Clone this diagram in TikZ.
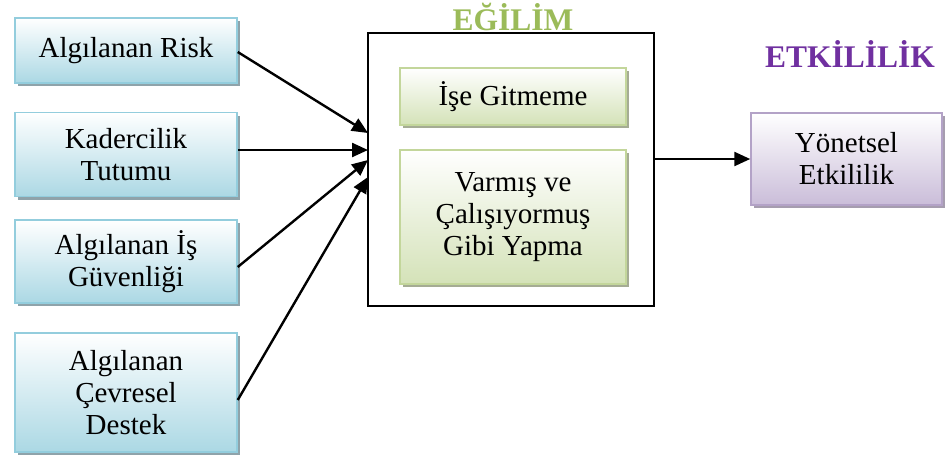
\documentclass[tikz,border=0pt]{standalone}
\usepackage{fontspec}
\setmainfont{Liberation Serif}
\usetikzlibrary{arrows.meta,shadows}

\definecolor{blueedge}{HTML}{93CDDD}
\definecolor{bluefill}{HTML}{ABD8E4}
\definecolor{blueshadow}{HTML}{8FA3AA}
\definecolor{greenedge}{HTML}{C3D69B}
\definecolor{greenfill}{HTML}{D4E2B8}
\definecolor{greenshadow}{HTML}{A5AC94}
\definecolor{purpleedge}{HTML}{B3A2C7}
\definecolor{purplefill}{HTML}{CABDD9}
\definecolor{purpleshadow}{HTML}{A69DAF}
\definecolor{titlegreen}{HTML}{9BBB59}
\definecolor{titlepurple}{HTML}{7030A0}

\tikzset{
  box/.style={rectangle, line width=1.5pt, align=center, inner sep=2pt,
    font=\fontsize{29}{32}\selectfont},
  bluebox/.style={box, draw=blueedge, top color=white, bottom color=bluefill,
    drop shadow={shadow xshift=3pt, shadow yshift=-3pt, fill=blueshadow, opacity=1}},
  greenbox/.style={box, draw=greenedge, top color=white, bottom color=greenfill,
    drop shadow={shadow xshift=3pt, shadow yshift=-3pt, fill=greenshadow, opacity=1}},
  purplebox/.style={box, draw=purpleedge, top color=white, bottom color=purplefill,
    drop shadow={shadow xshift=3pt, shadow yshift=-3pt, fill=purpleshadow, opacity=1}},
  frame/.style={rectangle, draw=black, line width=1.8pt},
  title/.style={font=\fontsize{31.5}{34}\selectfont\bfseries},
  arr/.style={line width=2.4pt, -{Triangle[length=16pt,width=14pt]}}
}

\begin{document}
\begin{tikzpicture}[x=1pt, y=-1pt]
  \useasboundingbox (0,0) rectangle (945,456);

  % input factors
  \node[bluebox, minimum width=222pt, minimum height=65pt] (b1) at (126,50.5) {Algılanan Risk};
  \node[bluebox, minimum width=222pt, minimum height=84pt] (b2) at (126,154.5) {Kadercilik\\Tutumu};
  \node[bluebox, minimum width=222pt, minimum height=83pt] (b3) at (126,261.5) {Algılanan İş\\Güvenliği};
  \node[bluebox, minimum width=222pt, minimum height=119pt] (b4) at (126,392.5) {Algılanan\\Çevresel\\Destek};

  % tendency frame with its two components
  \node[frame, minimum width=286pt, minimum height=273pt] (eg) at (511,169.5) {};
  \node[title, text=titlegreen] (egt) at (513,17) {EĞİLİM};
  \node[greenbox, minimum width=226pt, minimum height=57pt] (g1) at (513,96.5) {İşe Gitmeme};
  \node[greenbox, minimum width=226pt, minimum height=134pt] (g2) at (513,217) {Varmış ve\\Çalışıyormuş\\Gibi Yapma};

  % outcome
  \node[title, text=titlepurple] (ett) at (850,54) {ETKİLİLİK};
  \node[purplebox, minimum width=191pt, minimum height=92pt] (p1) at (846.5,159) {Yönetsel\\Etkililik};

  % arrow targets on the frame's left side
  \coordinate (t1) at (368,133);
  \coordinate (t2) at (368,150);
  \coordinate (t3) at (368,160);
  \coordinate (t4) at (368,177);

  \draw[arr] ([yshift=-1.5pt]b1.east) -- (t1);
  \draw[arr] (b2.east |- t2) -- (t2);
  \draw[arr] ([yshift=-5.5pt]b3.east) -- (t3);
  \draw[arr] ([yshift=-7.5pt]b4.east) -- (t4);
  \draw[arr] (eg.east |- p1.west) -- (p1.west);
\end{tikzpicture}
\end{document}
